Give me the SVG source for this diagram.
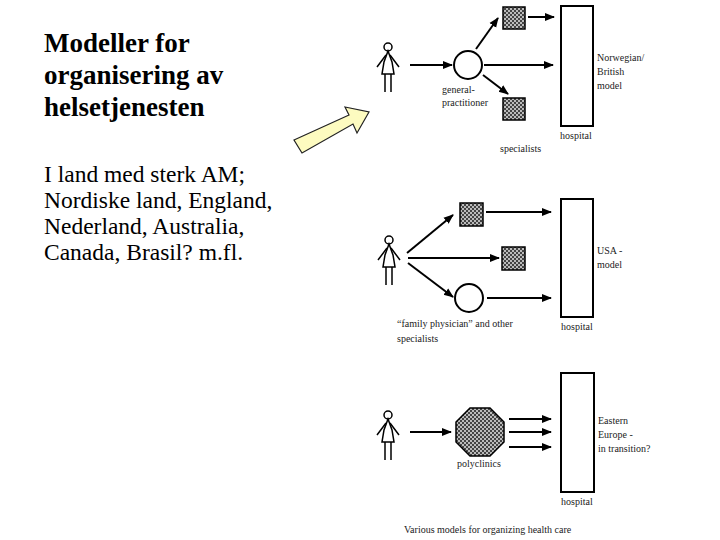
<svg xmlns="http://www.w3.org/2000/svg" width="720" height="540" viewBox="0 0 720 540">
<style>
text{font-family:"Liberation Serif","Times New Roman",serif}
.h{font-size:27px;font-weight:bold}
.b{font-size:23.5px}
.s{font-size:10px;fill:#222}
.ln{stroke:#000;stroke-width:2;fill:none}
.box{fill:#fff;stroke:#000;stroke-width:2}
.sq{fill:url(#chk);stroke:#000;stroke-width:1.5}
</style>
<defs>
<pattern id="chk" width="4" height="4" patternUnits="userSpaceOnUse">
<rect width="4" height="4" fill="#bbb"/><rect width="2" height="2" fill="#444"/><rect x="2" y="2" width="2" height="2" fill="#444"/>
</pattern>
<marker id="ah" viewBox="0 0 10 10" refX="9" refY="5" markerWidth="5" markerHeight="5" orient="auto" markerUnits="strokeWidth">
<path d="M0,1 L10,5 L0,9 z" fill="#000"/>
</marker>
<g id="person" fill="none" stroke="#000" stroke-width="1.5">
<circle cx="0" cy="5" r="4"/>
<path d="M0,9 L-4,20 L-6,32 L6,32 L4,20 Z"/>
<path d="M-2,13 L-11,25 M2,13 L11,25 M-3,32 L-3,50 M3,32 L3,50"/>
</g>
</defs>
<g id="title">
<text class="h" x="44" y="52">Modeller for</text>
<text class="h" x="44" y="84">organisering av</text>
<text class="h" x="44" y="116">helsetjenesten</text>
</g>
<g id="body">
<text class="b" x="44" y="182">I land med sterk AM;</text>
<text class="b" x="44" y="208">Nordiske land, England,</text>
<text class="b" x="44" y="234">Nederland, Australia,</text>
<text class="b" x="44" y="260">Canada, Brasil? m.fl.</text>
</g>
<g id="yellow-arrow">
<polygon points="294,140 349,115 345,107 369,112 357,133 353,124 302,153" fill="#fdfbc0" stroke="#222" stroke-width="1.2"/>
</g>
<g id="nodes">
<g id="m1">
<use href="#person" x="388" y="42"/>
<circle cx="468" cy="65" r="14" fill="#fff" stroke="#000" stroke-width="2"/>
<rect class="sq" x="503" y="7" width="22" height="22"/>
<rect class="sq" x="503" y="98" width="22" height="22"/>
<rect class="box" x="561" y="6" width="32" height="120"/>
<text class="s" x="442" y="93">general-</text>
<text class="s" x="442" y="106">practitioner</text>
<text class="s" x="560" y="139">hospital</text>
<text class="s" x="500" y="152">specialists</text>
<text class="s" x="597" y="61">Norwegian/</text>
<text class="s" x="597" y="75">British</text>
<text class="s" x="597" y="89">model</text>
</g>
<g id="m2">
<use href="#person" x="389" y="235"/>
<rect class="sq" x="460" y="203" width="23" height="23"/>
<rect class="sq" x="502" y="247" width="23" height="23"/>
<circle cx="469" cy="298" r="14" fill="#fff" stroke="#000" stroke-width="2"/>
<rect class="box" x="561" y="199" width="32" height="118"/>
<text class="s" x="597" y="254">USA -</text>
<text class="s" x="597" y="268">model</text>
<text class="s" x="561" y="330">hospital</text>
<text class="s" x="397" y="327">“family physician” and other</text>
<text class="s" x="397" y="342">specialists</text>
</g>
<g id="m3">
<use href="#person" x="388" y="410"/>
<polygon points="470,408 490,408 504,422 504,442 490,456 470,456 456,442 456,422" fill="url(#chk)" stroke="#000" stroke-width="1.5"/>
<rect class="box" x="561" y="373" width="33" height="119"/>
<text class="s" x="598" y="424">Eastern</text>
<text class="s" x="598" y="438">Europe -</text>
<text class="s" x="598" y="452">in transition?</text>
<text class="s" x="457" y="467">polyclinics</text>
<text class="s" x="561" y="505">hospital</text>
</g>
<text class="s" x="404" y="533">Various models for organizing health care</text>
</g>
<g id="connectors">
<line class="ln" x1="410" y1="65" x2="452" y2="65" marker-end="url(#ah)"/>
<line class="ln" x1="476" y1="49" x2="498" y2="18" marker-end="url(#ah)"/>
<line class="ln" x1="528" y1="17" x2="554" y2="17" marker-end="url(#ah)"/>
<line class="ln" x1="484" y1="65" x2="553" y2="65" marker-end="url(#ah)"/>
<line class="ln" x1="483" y1="75" x2="508" y2="94" marker-end="url(#ah)"/>
<line class="ln" x1="407" y1="253" x2="453" y2="215" marker-end="url(#ah)"/>
<line class="ln" x1="408" y1="258" x2="499" y2="258" marker-end="url(#ah)"/>
<line class="ln" x1="408" y1="263" x2="453" y2="297" marker-end="url(#ah)"/>
<line class="ln" x1="486" y1="212" x2="551" y2="212" marker-end="url(#ah)"/>
<line class="ln" x1="487" y1="298" x2="551" y2="298" marker-end="url(#ah)"/>
<line class="ln" x1="410" y1="432" x2="451" y2="432" marker-end="url(#ah)"/>
<line class="ln" x1="509" y1="419" x2="551" y2="419" marker-end="url(#ah)"/>
<line class="ln" x1="509" y1="432" x2="551" y2="432" marker-end="url(#ah)"/>
<line class="ln" x1="509" y1="447" x2="551" y2="447" marker-end="url(#ah)"/>
</g>
</svg>
